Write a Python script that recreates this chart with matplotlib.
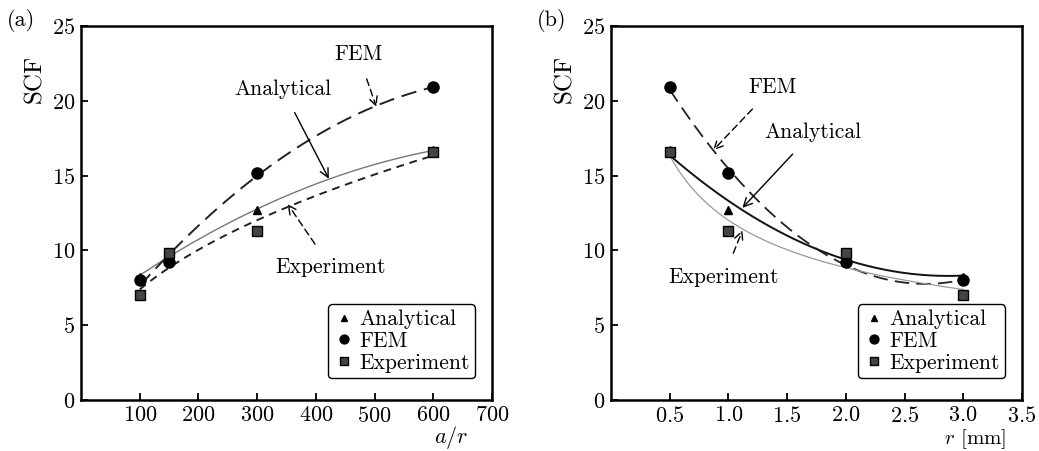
import numpy as np
import matplotlib
matplotlib.use("Agg")
import matplotlib.pyplot as plt

plt.rcParams['font.family'] = ['cmr10', 'DejaVu Serif']
plt.rcParams['mathtext.fontset'] = 'cm'
plt.rcParams['axes.formatter.use_mathtext'] = True
plt.rcParams['font.size'] = 15

# Datos (a): SCF frente a a/r
ar = np.array([100, 150, 300, 600])
scf_analytical_a = np.array([8.2, 9.8, 12.7, 16.7])
scf_fem_a = np.array([8.0, 9.2, 15.2, 20.9])
scf_exp_a = np.array([7.0, 9.8, 11.3, 16.6])

# Datos (b): SCF frente a r [mm]
r_mm = np.array([0.5, 1.0, 2.0, 3.0])
scf_analytical_b = np.array([16.7, 12.7, 9.8, 8.2])
scf_fem_b = np.array([20.9, 15.2, 9.2, 8.0])
scf_exp_b = np.array([16.6, 11.3, 9.8, 7.0])

yticks = [0, 5, 10, 15, 20, 25]
xticks_a = [100, 200, 300, 400, 500, 600, 700]
xticks_b = [0.5, 1.0, 1.5, 2.0, 2.5, 3.0, 3.5]


def quad_fit(x, y, xs):
    return np.polyval(np.polyfit(x, y, 2), xs)


def power_fit(x, y, xs):
    b, a = np.polyfit(np.log(x), np.log(y), 1)
    return np.exp(a) * xs ** b


fig = plt.figure(figsize=(10.39, 4.51), dpi=100)
ax1 = fig.add_axes([0.078, 0.113, 0.3956, 0.829])
ax2 = fig.add_axes([0.588, 0.113, 0.3956, 0.829])


def estilo(ax, xticks, xlim):
    ax.set_xlim(*xlim)
    ax.set_ylim(0, 25)
    ax.set_xticks(xticks)
    ax.set_yticks(yticks)
    ax.tick_params(direction='in', length=5, width=1.3, top=False, right=False, labelsize=16, pad=4)
    for s in ax.spines.values():
        s.set_linewidth(1.8)
    ax.set_ylabel('SCF', fontsize=18)
    ax.yaxis.set_label_coords(-0.085, 0.86)


def marcadores(ax, x, ya, yf, ye):
    ax.plot(x, ya, '^', color='black', ms=6, label='Analytical', zorder=4)
    ax.plot(x, yf, 'o', color='black', ms=8, label='FEM', zorder=4)
    ax.plot(x, ye, 's', color='#444444', mec='black', ms=6.5, label='Experiment', zorder=4)
    leg = ax.legend(loc='lower right', fontsize=15.5, frameon=True, fancybox=True, markerscale=0.8,
                    handletextpad=0.2, handlelength=1.0, borderpad=0.25, labelspacing=0.1,
                    bbox_to_anchor=(0.985, 0.03))
    leg.get_frame().set_edgecolor('black')
    leg.get_frame().set_linewidth(1.0)
    leg.get_frame().set_alpha(1)


flecha_rayada = dict(arrowstyle='->', ls=(0, (5, 3)), lw=1.0, color='black', shrinkA=9, shrinkB=0)
flecha = dict(arrowstyle='->', lw=1.0, color='black', shrinkA=9, shrinkB=0)

# (a)
xs = np.linspace(100, 600, 200)
ax1.plot(xs, quad_fit(ar, scf_analytical_a, xs), '-', color='#777777', lw=1.0)
ax1.plot(xs, quad_fit(ar, scf_fem_a, xs), color='#222222', lw=1.4, dashes=(8, 4))
ax1.plot(xs, power_fit(ar, scf_exp_a, xs), color='#222222', lw=1.4, dashes=(4, 3))
marcadores(ax1, ar, scf_analytical_a, scf_fem_a, scf_exp_a)
estilo(ax1, xticks_a, (0, 700))
ax1.set_xlabel('$a/r$', fontsize=16)
ax1.xaxis.set_label_coords(0.9, -0.065)

ax1.annotate('FEM', xy=(503, 19.6), xytext=(472, 23.1), ha='center', va='center', fontsize=15.5,
             arrowprops=flecha_rayada)
ax1.annotate('Analytical', xy=(422, 14.8), xytext=(343, 20.8), ha='center', va='center', fontsize=15.5,
             arrowprops=flecha)
ax1.annotate('Experiment', xy=(352, 13.1), xytext=(425, 8.9), ha='center', va='center', fontsize=15.5,
             arrowprops=flecha_rayada)

# (b)
rs = np.linspace(0.5, 3.0, 200)
ax2.plot(rs, quad_fit(r_mm, scf_analytical_b, rs), '-', color='#111111', lw=1.4)
ax2.plot(rs, quad_fit(r_mm, scf_fem_b, rs), color='#222222', lw=1.3, dashes=(8, 4))
ax2.plot(rs, power_fit(r_mm, scf_exp_b, rs), '-', color='#999999', lw=0.9)
marcadores(ax2, r_mm, scf_analytical_b, scf_fem_b, scf_exp_b)
estilo(ax2, xticks_b, (0, 3.5))
ax2.set_xlabel('$r$ [mm]', fontsize=15)
ax2.xaxis.set_label_coords(0.885, -0.072)

ax2.annotate('FEM', xy=(0.87, 16.7), xytext=(1.38, 20.9), ha='center', va='center', fontsize=15.5,
             arrowprops=flecha_rayada)
ax2.annotate('Analytical', xy=(1.12, 12.85), xytext=(1.72, 17.9), ha='center', va='center', fontsize=15.5,
             arrowprops=flecha)
ax2.annotate('Experiment', xy=(1.12, 11.35), xytext=(0.96, 8.2), ha='center', va='center', fontsize=15.5,
             arrowprops=flecha_rayada)

fig.text(0.007, 0.955, '(a)', fontsize=16, va='center')
fig.text(0.517, 0.955, '(b)', fontsize=16, va='center')

fig.savefig('out.png', dpi=100)
